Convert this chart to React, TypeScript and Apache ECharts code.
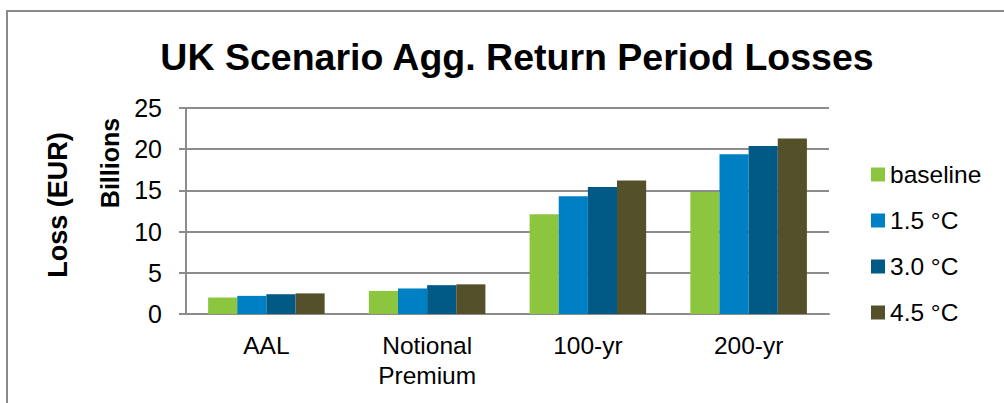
import React, { useEffect, useRef } from "react";
import * as echarts from "echarts";

const categories = ["AAL", "Notional\nPremium", "100-yr", "200-yr"];
const seriesNames = ["baseline", "1.5 °C", "3.0 °C", "4.5 °C"];
const baseline = [2.0, 2.8, 12.1, 14.8];
const c15 = [2.2, 3.1, 14.3, 19.4];
const c30 = [2.4, 3.5, 15.4, 20.4];
const c45 = [2.5, 3.6, 16.2, 21.3];
const colors = ["#8CC63F", "#0080C4", "#005A85", "#545029"];
const titleText = "UK Scenario Agg. Return Period Losses";
const yTitle = "Loss (EUR)";
const unitLabel = "Billions";

const FONT = "'Liberation Sans', Arial, Helvetica, sans-serif";

export default function App() {
  const ref = useRef<HTMLDivElement>(null);
  useEffect(() => {
    document.body.style.margin = "0";
    const chart = echarts.init(ref.current!, null, { renderer: "svg" });
    const data = [baseline, c15, c30, c45];
    chart.setOption({
      animation: false,
      backgroundColor: "#ffffff",
      textStyle: { fontFamily: FONT },
      title: {
        text: titleText,
        left: 512,
        textAlign: "center",
        top: 33,
        textStyle: { fontFamily: FONT, fontSize: 37.5, fontWeight: "bold", color: "#000" },
      },
      legend: {
        orient: "vertical",
        left: 871,
        top: 162,
        padding: 0,
        itemWidth: 14,
        itemHeight: 14,
        itemGap: 21,
        icon: "rect",
        data: seriesNames,
        textStyle: { fontFamily: FONT, fontSize: 24.5, color: "#000", lineHeight: 24 },
      },
      grid: { left: 186, top: 108, width: 643, height: 206 },
      xAxis: {
        type: "category",
        data: categories,
        axisLine: { lineStyle: { color: "#8c8c8c", width: 2 } },
        axisTick: { show: false },
        axisLabel: {
          margin: 16,
          fontFamily: FONT,
          fontSize: 24.5,
          color: "#000",
          lineHeight: 30,
          interval: 0,
        },
      },
      yAxis: {
        type: "value",
        min: 0,
        max: 25,
        interval: 5,
        axisLine: { show: true, lineStyle: { color: "#8c8c8c", width: 2 } },
        axisTick: { show: true, length: 7, lineStyle: { color: "#8c8c8c", width: 2 } },
        splitLine: { lineStyle: { color: "#8c8c8c", width: 2 } },
        axisLabel: { margin: 24, fontFamily: FONT, fontSize: 25, color: "#000" },
      },
      series: seriesNames.map((name, i) => ({
        name,
        type: "bar",
        data: data[i],
        barGap: "0%",
        barCategoryGap: "27.5%",
        itemStyle: { color: colors[i] },
      })),
      graphic: [
        {
          type: "rect",
          shape: { x: 7, y: 11, width: 1200, height: 600 },
          style: { fill: "none", stroke: "#8a8a8a", lineWidth: 2 },
          silent: true,
        },
        {
          type: "text",
          x: 58,
          y: 205,
          rotation: Math.PI / 2,
          style: {
            text: yTitle,
            fontFamily: FONT,
            fontSize: 27,
            fontWeight: "bold",
            fill: "#000",
            textAlign: "center",
            textVerticalAlign: "middle",
          },
        },
        {
          type: "text",
          x: 110,
          y: 163,
          rotation: Math.PI / 2,
          style: {
            text: unitLabel,
            fontFamily: FONT,
            fontSize: 25,
            fontWeight: "bold",
            fill: "#000",
            textAlign: "center",
            textVerticalAlign: "middle",
          },
        },
      ],
    });
    return () => chart.dispose();
  }, []);
  return <div ref={ref} style={{ width: 1004, height: 403 }} />;
}
